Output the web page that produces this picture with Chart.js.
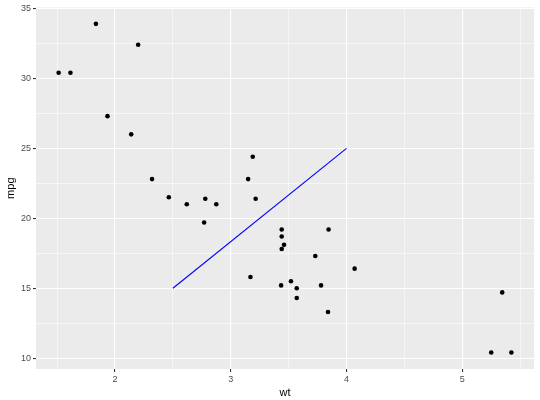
<!DOCTYPE html>
<html>
<head>
<meta charset="utf-8">
<script src="https://cdn.jsdelivr.net/npm/chart.js@4.4.0/dist/chart.umd.min.js"></script>
<style>
html, body { margin: 0; padding: 0; background: #fff; }
#wrap { width: 540px; height: 400px; }
</style>
</head>
<body>
<div id="wrap"><canvas id="chart"></canvas></div>
<script>
// mtcars: weight (1000 lbs) and miles per gallon
var wt  = [2.620, 2.875, 2.320, 3.215, 3.440, 3.460, 3.570, 3.190, 3.150, 3.440, 3.440,
           4.070, 3.730, 3.780, 5.250, 5.424, 5.345, 2.200, 1.615, 1.835, 2.465, 3.520,
           3.435, 3.840, 3.845, 1.935, 2.140, 1.513, 3.170, 2.770, 3.570, 2.780];
var mpg = [21.0, 21.0, 22.8, 21.4, 18.7, 18.1, 14.3, 24.4, 22.8, 19.2, 17.8,
           16.4, 17.3, 15.2, 10.4, 10.4, 14.7, 32.4, 30.4, 33.9, 21.5, 15.5,
           15.2, 13.3, 19.2, 27.3, 26.0, 30.4, 15.8, 19.7, 15.0, 21.4];

// segment drawn on top
var segX = [2.5, 4];
var segY = [15, 25];

// tick labels
var xTicks = [2, 3, 4, 5];
var yTicks = [10, 15, 20, 25, 30, 35];

var points = [];
for (var i in wt) {
    points.push({x: wt[i], y: mpg[i]});
}
var seg = [];
for (var j in segX) {
    seg.push({x: segX[j], y: segY[j]});
}

// minor breaks halfway between majors, like ggplot
function withMinor(major, lo, hi) {
    var step = major[1] - major[0];
    var out = [];
    for (var v = major[0] - step; v <= major[major.length - 1] + step; v += step / 2) {
        if (v >= lo && v <= hi) out.push(v);
    }
    return out;
}

var xMin = 1.3175, xMax = 5.6195;
var yMin = 9.225, yMax = 35.075;

function isMajor(list, v) {
    return list.indexOf(v) !== -1;
}

var panelBg = {
    id: 'panelBg',
    beforeDraw: function(chart) {
        var a = chart.chartArea, c = chart.ctx;
        c.save();
        c.fillStyle = '#EBEBEB';
        c.fillRect(a.left, a.top, a.right - a.left, a.bottom - a.top);
        c.restore();
    }
};

function axisOpts(major, lo, hi, size, title, isX) {
    return {
        type: 'linear',
        min: lo,
        max: hi,
        afterBuildTicks: function(scale) {
            scale.ticks = withMinor(major, lo, hi).map(function(v) { return {value: v}; });
        },
        afterFit: function(scale) {
            if (isX) scale.height = size; else scale.width = size;
        },
        border: { display: false },
        grid: {
            color: '#FFFFFF',
            lineWidth: function(ctx) { return isMajor(major, ctx.tick.value) ? 1.1 : 0.55; },
            drawTicks: true,
            tickLength: 3,
            tickWidth: 1.1,
            tickColor: function(ctx) { return isMajor(major, ctx.tick.value) ? '#333333' : 'rgba(0,0,0,0)'; }
        },
        ticks: {
            autoSkip: false,
            maxRotation: 0,
            padding: 2,
            color: '#4D4D4D',
            font: { family: 'Liberation Sans', size: 9 },
            callback: function(v) { return isMajor(major, v) ? String(v) : ''; }
        },
        title: {
            display: true,
            text: title,
            color: '#000000',
            font: { family: 'Liberation Sans', size: 11 },
            padding: isX ? { top: 2, bottom: 0 } : { top: 4, bottom: 2 }
        }
    };
}

var ctx1 = document.getElementById('chart');

var chart1 = new Chart(ctx1, {
    type: 'scatter',
    data: {
        datasets: [
            {
                label: 'points',
                data: points,
                backgroundColor: '#000000',
                borderColor: '#000000',
                borderWidth: 0,
                pointRadius: 2.3
            },
            {
                label: 'segment',
                data: seg,
                showLine: true,
                borderColor: '#0000FF',
                borderWidth: 1.1,
                pointRadius: 0
            }
        ]
    },
    options: {
        responsive: true,
        maintainAspectRatio: false,
        animation: false,
        events: [],
        layout: { padding: { top: 5, right: 6, left: 0, bottom: 0 } },
        plugins: {
            legend: { display: false },
            tooltip: { enabled: false }
        },
        scales: {
            x: axisOpts(xTicks, xMin, xMax, 31, 'wt', true),
            y: axisOpts(yTicks, yMin, yMax, 36, 'mpg', false)
        }
    },
    plugins: [panelBg]
});
</script>
</body>
</html>
